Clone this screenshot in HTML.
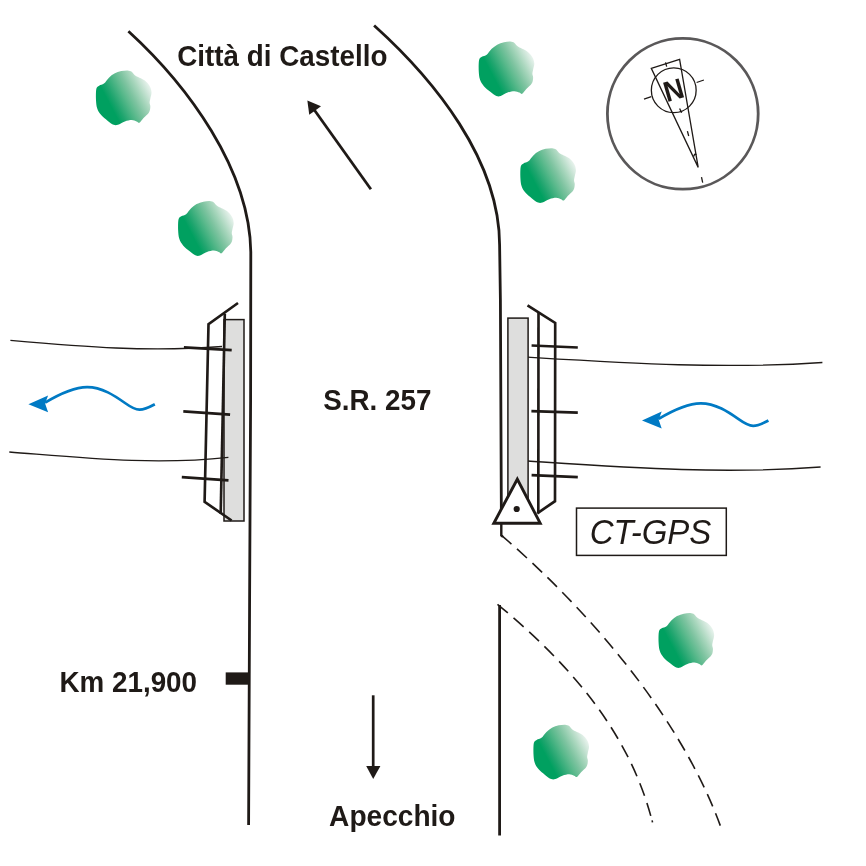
<!DOCTYPE html>
<html><head><meta charset="utf-8"><style>
html,body{margin:0;padding:0;background:#fff;}
svg{display:block;will-change:transform;}
text{font-family:"Liberation Sans",sans-serif;fill:#1f1a17;}
</style></head><body>
<svg width="866" height="866" viewBox="0 0 866 866">
<defs>
<linearGradient id="tg" gradientUnits="userSpaceOnUse" x1="-13.6" y1="7.2" x2="28.9" y2="-15.3">
<stop offset="0" stop-color="#00a060"/>
<stop offset="0.12" stop-color="#1ea56e"/>
<stop offset="0.35" stop-color="#5ab98c"/>
<stop offset="0.5" stop-color="#7fc4a1"/>
<stop offset="0.67" stop-color="#aad7be"/>
<stop offset="0.82" stop-color="#d2e8dc"/>
<stop offset="1" stop-color="#ffffff"/>
</linearGradient>
<path id="tree" d="M-27.4,-8.8 C-26.8,-11.1 -25.8,-11.0 -24.6,-11.9 C-23.3,-12.8 -21.4,-12.7 -19.8,-14.0 C-18.1,-15.3 -16.6,-18.2 -14.8,-19.9 C-13.1,-21.6 -11.4,-23.0 -9.3,-24.1 C-7.3,-25.2 -4.7,-26.0 -2.5,-26.5 C-0.3,-27.0 2.1,-27.3 3.9,-27.2 C5.6,-27.1 6.8,-26.6 8.0,-25.8 C9.1,-25.1 9.5,-23.7 10.8,-22.7 C12.0,-21.7 13.9,-20.8 15.7,-19.9 C17.4,-19.0 19.4,-18.5 21.1,-17.1 C22.9,-15.7 24.8,-13.6 25.9,-11.6 C27.1,-9.6 27.6,-7.4 27.8,-5.3 C27.9,-3.2 26.9,-0.8 26.6,0.9 C26.3,2.6 25.9,3.7 25.9,5.1 C25.9,6.5 26.8,7.6 26.6,9.2 C26.5,10.8 26.4,13.0 25.2,14.8 C24.1,16.7 21.4,18.6 19.8,20.3 C18.1,22.0 16.8,24.5 15.7,25.1 C14.5,25.7 14.1,24.2 12.8,23.8 C11.6,23.4 9.9,22.4 8.0,22.4 C6.0,22.4 3.4,23.0 1.1,23.8 C-1.3,24.6 -4.0,26.6 -5.8,27.2 C-7.7,27.8 -8.3,27.9 -10.1,27.2 C-11.8,26.5 -14.2,24.7 -16.2,23.1 C-18.3,21.5 -20.8,19.6 -22.6,17.5 C-24.3,15.4 -25.8,13.2 -26.6,10.6 C-27.5,7.9 -27.6,4.8 -27.8,1.6 C-27.9,-1.6 -27.9,-6.6 -27.4,-8.8 Z" fill="url(#tg)"/>
<path id="blue" d="M45.1,402.6 C62,392.5 76,387.2 87,387.1 C102,387 115,396 125,403 C131,407.3 135,409.6 139.5,409.7 C145,409.8 150.5,406.6 154.8,404.3" fill="none" stroke="#007ac4" stroke-width="2.7"/>
<path id="bhead" d="M28.4,404.3 L48.1,395.4 L45.1,403.5 L48.1,412.2 Z" fill="#007ac4"/>
</defs>
<rect width="866" height="866" fill="#fff"/>
<use href="#tree" x="123.75" y="97.6"/><use href="#tree" x="205.9" y="228.2"/><use href="#tree" x="506.5" y="68.75"/><use href="#tree" x="548.15" y="175.35"/><use href="#tree" x="686.35" y="640.2"/><use href="#tree" x="561.25" y="751.85"/>
<g fill="none" stroke="#1f1a17" stroke-width="2.8">
<path d="M128.4,31.2 C187.2,85.0 249.6,168.7 250.8,252.0 L250.6,400 L249.6,600 L248.6,825"/>
<path d="M374.1,25.5 C434.1,79.6 499.5,159.9 499.6,245.0 L500.4,300 L501.2,480 L501.4,522"/>
<path d="M499.6,605 L499.6,835.5"/>
</g>
<g fill="none" stroke="#1f1a17" stroke-width="1.6">
<path d="M501.5,535.4 C589.1,610.5 680.3,716.6 720.3,825.6" stroke-dasharray="13.38,7.43"/>
<path d="M497.5,604.3 C567.8,662.4 629.6,731.4 652.4,822.1" stroke-dasharray="13.5,7.5"/>
<path d="M652.1,820.3 L652.5,822.3"/>
</g>
<path d="M501.3,522 L501.3,535.4 L503,537" fill="none" stroke="#1f1a17" stroke-width="2.4"/>
<!-- text -->
<text transform="translate(177.3,66) scale(1,1.04)" font-size="27.8" font-weight="bold">Città di Castello</text>
<text transform="translate(323.2,410) scale(1,1.04)" font-size="27.8" font-weight="bold">S.R. 257</text>
<text transform="translate(59.5,692) scale(1,1.04)" font-size="27.8" font-weight="bold">Km 21,900</text>
<text transform="translate(329.1,826) scale(1,1.04)" font-size="28.1" font-weight="bold">Apecchio</text>
<!-- arrows -->
<line x1="370.9" y1="189.3" x2="314" y2="109.5" stroke="#1f1a17" stroke-width="2.8"/>
<path d="M307.4,100.4 L321,106.2 L315.3,110.5 L309.2,114.8 Z" fill="#1f1a17"/>
<line x1="373.2" y1="695.3" x2="373.2" y2="768" stroke="#1f1a17" stroke-width="2.7"/>
<path d="M373.2,778.9 L366.2,765.9 L380.4,765.9 Z" fill="#1f1a17"/>
<rect x="225.7" y="672.4" width="24" height="12.3" fill="#1f1a17"/>
<!-- left bridge -->
<rect x="224" y="319.6" width="20" height="201.4" fill="#dededd" stroke="#1f1a17" stroke-width="1.5"/>
<g fill="none" stroke="#1f1a17" stroke-width="2.65" stroke-linejoin="miter">
<path d="M238,303 L208.5,324.1 L204.6,501.8 L231.6,520.5"/>
<path d="M224.8,313.7 L220.7,513.8"/>
</g>
<g fill="none" stroke="#1f1a17" stroke-width="2.7">
<path d="M183.9,347.4 L231.7,350.1 M183.3,411.3 L230.1,414.7 M181.8,477.2 L228.5,480.3"/>
</g>
<g fill="none" stroke="#1f1a17" stroke-width="1.3">
<path d="M10.4,340.4 C83.4,346.8 148.3,352.2 222.0,346.5"/>
<path d="M9.3,452.0 C83.7,457.8 153.8,465.5 228.4,457.3"/>
<path d="M527.9,357.2 C627.2,363.2 723.0,369.3 822.4,362.5"/>
<path d="M527.9,461.0 C626.4,467.5 722.0,474.6 820.6,467.0"/>
</g>
<!-- right bridge -->
<rect x="507.9" y="318.1" width="20.2" height="195" fill="#dededd" stroke="#1f1a17" stroke-width="1.5"/>
<g fill="none" stroke="#1f1a17" stroke-width="2.65">
<path d="M527.5,305.4 L555.2,322.9 L555,501.2 L537.3,513.3"/>
<path d="M538.5,312.3 L538.3,513.3"/>
</g>
<g fill="none" stroke="#1f1a17" stroke-width="2.7">
<path d="M531.6,345.5 L577.8,347.5 M531.4,411.2 L577.8,412.7 M531.6,475.2 L577.8,477.2"/>
</g>
<!-- triangle -->
<path d="M517.3,479.2 L493.8,523.2 L540.2,523.2 Z" fill="#fff" stroke="#1f1a17" stroke-width="2.9" stroke-linejoin="miter"/>
<circle cx="516.7" cy="509" r="3.1" fill="#1f1a17"/>
<!-- blue arrows -->
<use href="#blue"/><use href="#bhead"/>
<g transform="translate(613.6,16.2)"><use href="#blue"/><use href="#bhead"/></g>
<!-- CT-GPS -->
<rect x="576.5" y="508.1" width="149.8" height="47.3" fill="#fff" stroke="#1f1a17" stroke-width="1.5"/>
<text transform="translate(589.7,544) scale(1,1.04)" font-size="33" font-style="italic">CT-GPS</text>
<!-- compass -->
<circle cx="682.8" cy="113.8" r="75.4" fill="none" stroke="#5a5859" stroke-width="2.8"/>
<g fill="none" stroke="#1f1a17" stroke-width="1.3">
<circle cx="673.75" cy="90.25" r="22.4"/>
<path d="M651.3,68.3 L679.6,59.4 L698.2,167.4 Z"/>
<path d="M693.6,156.5 Q695,152.5 696.2,155 M665.5,62.3 L666.7,66.7 M644,99.1 L651.3,96.6 M696.6,82.5 L703.9,80 M679.6,108.4 L681.6,112.8 M687.4,131.1 L688.7,136 M701.5,177.2 L702.7,182.7"/>
</g>
<text font-size="27.5" font-weight="bold" text-anchor="middle" transform="translate(673.6,89.9) rotate(-16) translate(0,9.9) scale(1,1.04)">N</text>
</svg>
</body></html>
